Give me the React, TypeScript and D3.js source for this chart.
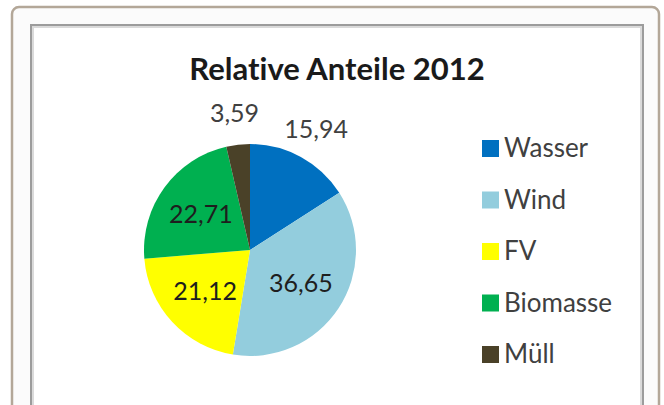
import React from "react";
import * as d3 from "d3";

const categories = ["Wasser", "Wind", "FV", "Biomasse", "Müll"];
const shares = [15.94, 36.65, 21.12, 22.71, 3.59];
const colors = ["#0070C0", "#93CDDD", "#FFFF00", "#00B050", "#4A4128"];
// labels Excel placed outside the pie ("best fit")
const outsideLabels = ["Wasser", "Müll"];
const title = "Relative Anteile 2012";

const W = 664;
const H = 405;
const font = "Lato, 'Open Sans', sans-serif";

const fmt = (v: number) => v.toFixed(2).replace(".", ",");

const App: React.FC = () => {
  const cx = 250;
  const cy = 250;
  const r = 106;

  const pie = d3
    .pie<number>()
    .sort(null)
    .value((d) => d);
  const arcs = pie(shares);

  const arc = d3.arc<d3.PieArcDatum<number>>().innerRadius(0).outerRadius(r);
  const insideArc = d3
    .arc<d3.PieArcDatum<number>>()
    .innerRadius(r * 0.575)
    .outerRadius(r * 0.575);
  const outsideArc = d3
    .arc<d3.PieArcDatum<number>>()
    .innerRadius(r * 1.3)
    .outerRadius(r * 1.3);

  const legendY = d3
    .scalePoint<string>()
    .domain(categories)
    .range([148, 354]);

  return (
    <svg
      width={W}
      height={H}
      style={{ position: "absolute", left: 0, top: 0, fontVariantLigatures: "none" }}
      fontFamily={font}
    >
      <rect width={W} height={H} fill="#ffffff" />
      {/* outer frame */}
      <rect
        x={12}
        y={7}
        width={647}
        height={440}
        rx={7}
        fill="#fbfbfb"
        stroke="#b3a798"
        strokeWidth={2.5}
      />
      {/* chart area frame */}
      <rect x={31} y={25} width={612} height={440} fill="#ffffff" stroke="#9c9c9c" strokeWidth={2} />
      <rect x={33} y={27} width={608} height={440} fill="none" stroke="#dadada" strokeWidth={2} />

      <text
        x={337}
        y={80}
        textAnchor="middle"
        fontSize={31}
        fontWeight="bold"
        fill="#1a1a1a"
      >
        {title}
      </text>

      <g transform={`translate(${cx},${cy})`}>
        {arcs.map((a, i) => (
          <path key={categories[i]} d={arc(a) ?? ""} fill={colors[i]} />
        ))}
        {arcs.map((a, i) => {
          const outside = outsideLabels.includes(categories[i]);
          const [lx, ly] = (outside ? outsideArc : insideArc).centroid(a);
          return (
            <text
              key={"l" + categories[i]}
              x={lx}
              y={ly}
              dy="0.36em"
              textAnchor="middle"
              fontSize={25}
              fill={outside ? "#404040" : "#1e1e1e"}
            >
              {fmt(a.data)}
            </text>
          );
        })}
      </g>

      <g>
        {categories.map((c, i) => (
          <g key={c} transform={`translate(482,${legendY(c)})`}>
            <rect x={0} y={-8} width={17} height={17} fill={colors[i]} />
            <text x={22} y={0} dy="0.36em" fontSize={26} fill="#404040">
              {c}
            </text>
          </g>
        ))}
      </g>
    </svg>
  );
};

export default App;
